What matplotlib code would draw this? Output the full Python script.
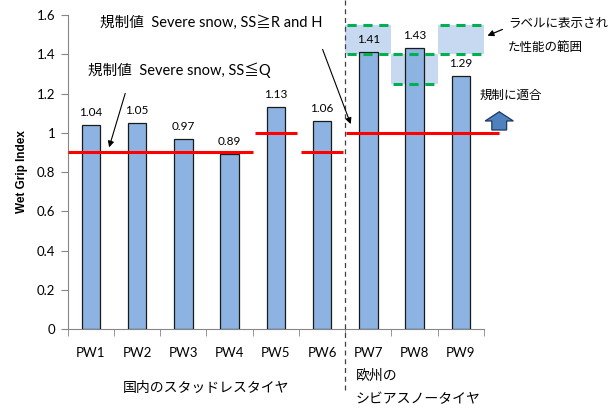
import matplotlib
matplotlib.use('Agg')
import matplotlib.pyplot as plt
from matplotlib.patches import Rectangle, FancyArrow

plt.rcParams['font.family'] = ['Lato', 'Noto Sans CJK JP', 'DejaVu Sans']

categories = ['PW1', 'PW2', 'PW3', 'PW4', 'PW5', 'PW6', 'PW7', 'PW8', 'PW9']
wet_grip = [1.04, 1.05, 0.97, 0.89, 1.13, 1.06, 1.41, 1.43, 1.29]
# 規制値 (red lines)
reg_limit = [0.9, 0.9, 0.9, 0.9, 1.0, 0.9, 1.0, 1.0, 1.0]
# ラベル表示の性能範囲 (PW7-PW9)
label_low = [1.40, 1.25, 1.40]
label_high = [1.55, 1.40, 1.55]
label_first = 6

bar_color = '#8db3e2'
box_color = '#c6d9f1'
green = '#00b050'
red = '#ff0000'

fig = plt.figure(figsize=(6.12, 4.09), dpi=100)
ax = fig.add_axes([0.1106, 0.1956, 0.6802, 0.7677])

x = list(range(len(categories)))
ax.bar(x, wet_grip, width=0.4, color=bar_color, edgecolor='#1a1a1a', linewidth=0.9, zorder=3)
for xi, v in zip(x, wet_grip):
    ax.annotate('%.2f' % v, (xi, v), xytext=(0, 5), textcoords='offset points',
                ha='center', va='bottom', fontsize=8.5)

# red regulation lines, grouped by consecutive equal values
groups = []
start = 0
for i in range(1, len(reg_limit) + 1):
    if i == len(reg_limit) or reg_limit[i] != reg_limit[start]:
        groups.append((start, i - 1, reg_limit[start]))
        start = i
for k, (a, b, v) in enumerate(groups):
    x0 = a - 0.45
    x1 = b + 0.45
    if k == 0:
        x0, x1 = -0.5, b + 0.51
    if k == len(groups) - 1:
        x0, x1 = a - 0.49, b + 0.82
    ax.plot([x0, x1], [v, v], color=red, lw=2.2, zorder=5, clip_on=False, solid_capstyle='butt')

# label ranges
for j, (lo, hi) in enumerate(zip(label_low, label_high)):
    c = label_first + j
    ax.add_patch(Rectangle((c - 0.5, lo), 1.0, hi - lo, facecolor=box_color, edgecolor='none',
                           zorder=1, clip_on=False))
    ax.plot([c - 0.46, c + 0.46], [lo, lo], color=green, lw=2.2, ls=(0, (3, 2.2)), zorder=6, clip_on=False)
    ax.plot([c - 0.46, c + 0.46], [hi, hi], color=green, lw=2.2, ls=(0, (3, 2.2)), zorder=6, clip_on=False)

# divider between domestic and european tyres
ax.plot([5.5, 5.5], [-0.31, 1.68], color='#404040', lw=0.9, ls=(0, (4, 3)), clip_on=False, zorder=4)

ax.set_xlim(-0.5, 8.5)
ax.set_ylim(0, 1.6)
ax.set_yticks([0, 0.2, 0.4, 0.6, 0.8, 1.0, 1.2, 1.4, 1.6])
ax.set_yticklabels(['0', '0.2', '0.4', '0.6', '0.8', '1', '1.2', '1.4', '1.6'])
ax.set_xticks(x)
ax.set_xticklabels(categories)
ax.set_xticks([i - 0.5 for i in range(len(categories) + 1)], minor=True)
ax.tick_params(axis='x', which='major', length=0, pad=13, labelsize=9.5)
ax.tick_params(axis='x', which='minor', length=5, color='#868686')
ax.tick_params(axis='y', length=5, color='#868686', labelsize=9.5, pad=4)
for s in ['top', 'right']:
    ax.spines[s].set_visible(False)
for s in ['left', 'bottom']:
    ax.spines[s].set_color('#868686')
ax.set_ylabel('Wet Grip Index', fontsize=8.5, fontweight='bold', family=['Liberation Sans', 'DejaVu Sans'], labelpad=6)

# annotations
ax.text(0.2, 1.564, '規制値  Severe snow, SS≧R and H', fontsize=10.5, va='center', ha='left')
ax.text(-0.06, 1.319, '規制値  Severe snow, SS≦Q', fontsize=10.5, va='center', ha='left')
ax.annotate('', xy=(0.378, 0.912), xytext=(0.761, 1.214),
            arrowprops=dict(arrowstyle='-|>', color='black', lw=0.8, mutation_scale=9), zorder=7)
ax.annotate('', xy=(5.64, 1.031), xytext=(4.99, 1.438),
            arrowprops=dict(arrowstyle='-|>', color='black', lw=0.8, mutation_scale=9), zorder=7)
ax.annotate('', xy=(8.52, 1.489), xytext=(8.955, 1.532), annotation_clip=False,
            arrowprops=dict(arrowstyle='-|>', color='black', lw=0.9, mutation_scale=9), zorder=7)
ax.text(9.02, 1.559, 'ラベルに表示され', fontsize=9, va='center', ha='left')
ax.text(9.02, 1.439, 'た性能の範囲', fontsize=9, va='center', ha='left')
ax.text(9.08, 1.192, '規制に適合', fontsize=9, va='center', ha='center')
ax.add_patch(FancyArrow(8.83, 1.014, 0, 0.093, width=0.32, head_width=0.61, head_length=0.047,
                        length_includes_head=True, facecolor='#4f81bd', edgecolor='#1f3864',
                        lw=0.9, clip_on=False, zorder=6))

ax.text(2.5, -0.30, '国内のスタッドレスタイヤ', fontsize=10, va='center', ha='center')
ax.text(5.73, -0.234, '欧州の', fontsize=10, va='center', ha='left')
ax.text(5.73, -0.357, 'シビアスノータイヤ', fontsize=10, va='center', ha='left')

fig.savefig('out.png', dpi=100)
